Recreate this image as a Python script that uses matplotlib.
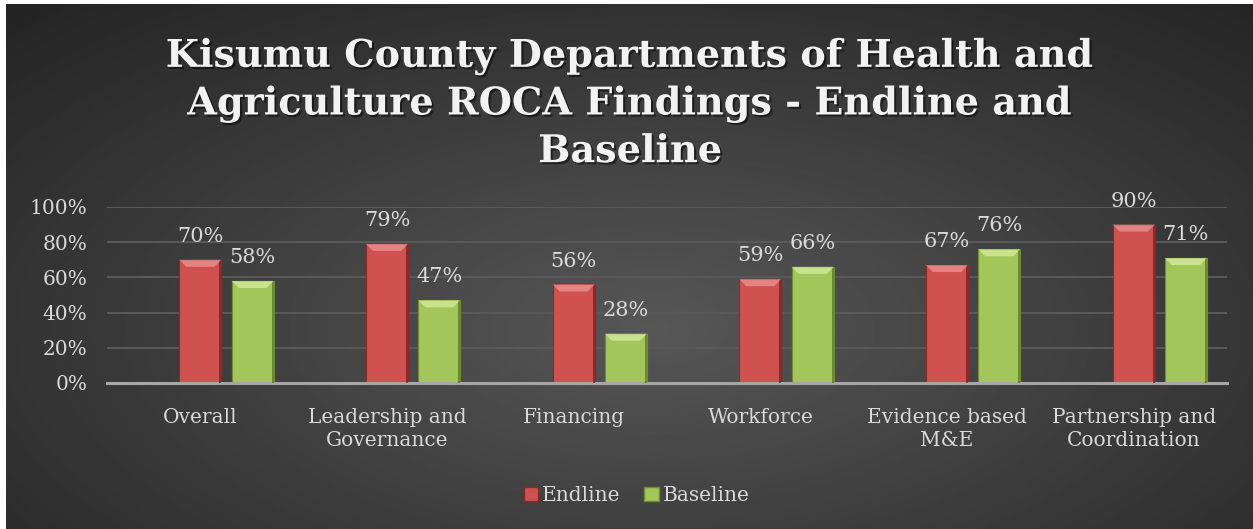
import numpy as np
import matplotlib
matplotlib.use("Agg")
import matplotlib.pyplot as plt
import matplotlib.patheffects as pe
from matplotlib.patches import Patch, Polygon
from matplotlib.transforms import IdentityTransform

# chart data
categories = ["Overall", "Leadership and\nGovernance", "Financing", "Workforce",
              "Evidence based\nM&E", "Partnership and\nCoordination"]
endline = [0.70, 0.79, 0.56, 0.59, 0.67, 0.90]
baseline = [0.58, 0.47, 0.28, 0.66, 0.76, 0.71]
series_names = ["Endline", "Baseline"]
yticks = [0, 0.2, 0.4, 0.6, 0.8, 1.0]

TEXT = "#d9d9d9"
RED = "#d05250"
GREEN = "#a2c65a"
SERIF = "DejaVu Serif"

fig = plt.figure(figsize=(12.53, 5.29), dpi=100)
fig.patch.set_facecolor("white")

# background with radial gradient (chart area starts a few px in from top/left)
bg = fig.add_axes([6 / 1253, 0, 1 - 6 / 1253, 1 - 4 / 529], zorder=-5)
gy, gx = np.mgrid[0:1:300j, 0:1:700j]
dist = np.sqrt(((gx - 0.52) / 0.75) ** 2 + ((gy - 0.62) / 0.85) ** 2)
shade = np.clip(0.34 - 0.20 * dist, 0.13, 0.35)
bg.imshow(shade, cmap="gray", vmin=0, vmax=1, aspect="auto", extent=[0, 1, 0, 1])
bg.axis("off")

ax = fig.add_axes([107 / 1253, 146 / 529, 1120 / 1253, 176 / 529])
ax.set_facecolor("none")

x = np.arange(len(categories))
width = 0.225
shift = 0.28
bars_e = ax.bar(x, endline, width, color=RED, edgecolor="#8a2a28", linewidth=0.8, zorder=3)
bars_b = ax.bar(x + shift, baseline, width, color=GREEN, edgecolor="#6f8c32", linewidth=0.8, zorder=3)

ax.set_xlim(-0.5, len(categories) - 0.5)
ax.set_ylim(0, 1.0)
ax.set_yticks(yticks)
ax.set_yticklabels([f"{int(round(v * 100))}%" for v in yticks])
ax.set_xticks(x)
ax.set_xticklabels(categories, linespacing=1.3)
ax.tick_params(axis="both", length=0, colors=TEXT, labelsize=14.5)
ax.tick_params(axis="y", pad=14)
ax.tick_params(axis="x", pad=18)
for lab in ax.get_xticklabels() + ax.get_yticklabels():
    lab.set_family(SERIF)

ax.grid(axis="y", color="#5a5a5a", linewidth=1.4, zorder=0)
for s in ["top", "right", "left"]:
    ax.spines[s].set_visible(False)
ax.spines["bottom"].set_color("#a6a6a6")
ax.spines["bottom"].set_linewidth(2.2)
ax.spines["bottom"].set_zorder(4)

# bevel look on the bars
def bevel(bars, light, dark):
    for b in bars:
        (x0, y0), (x1, y1) = ax.transData.transform([(b.get_x(), 0),
                                                     (b.get_x() + b.get_width(), b.get_height())])
        d = 7
        top = Polygon([(x0, y1), (x1, y1), (x1 - d, y1 - d), (x0 + d, y1 - d)],
                      closed=True, transform=IdentityTransform(), facecolor=light,
                      edgecolor="none", zorder=4, alpha=0.75)
        right = Polygon([(x1, y1), (x1, y0), (x1 - 2, y0), (x1 - 2, y1 - 2)],
                        closed=True, transform=IdentityTransform(), facecolor=dark,
                        edgecolor="none", zorder=4, alpha=0.8)
        fig.add_artist(top)
        fig.add_artist(right)

bevel(bars_e, "#ec9493", "#7a2020")
bevel(bars_b, "#d6ee9e", "#5e7a26")

for bars in (bars_e, bars_b):
    ax.bar_label(bars, labels=[f"{int(round(v * 100))}%" for v in bars.datavalues],
                 padding=10, color=TEXT, fontsize=15, family=SERIF, zorder=5)

handles = [Patch(facecolor=RED, edgecolor="#8a2a28"), Patch(facecolor=GREEN, edgecolor="#6f8c32")]
leg = fig.legend(handles, series_names, loc="center", bbox_to_anchor=(0.508, 0.064),
                 ncol=2, frameon=False, handlelength=0.7, handleheight=0.7,
                 handletextpad=0.2, columnspacing=1.2,
                 prop={"family": SERIF, "size": 14.5})
for t in leg.get_texts():
    t.set_color(TEXT)

fig.text(0.503, 1 - 104 / 529,
         "Kisumu County Departments of Health and\nAgriculture ROCA Findings - Endline and\nBaseline",
         ha="center", va="center", multialignment="center", color="#f2f2f2",
         fontsize=27.5, fontweight="bold", family=SERIF, linespacing=1.35,
         path_effects=[pe.withSimplePatchShadow(offset=(1.5, -1.5), shadow_rgbFace="black", alpha=0.5)])

fig.savefig("out.png", dpi=100, facecolor=fig.get_facecolor())
